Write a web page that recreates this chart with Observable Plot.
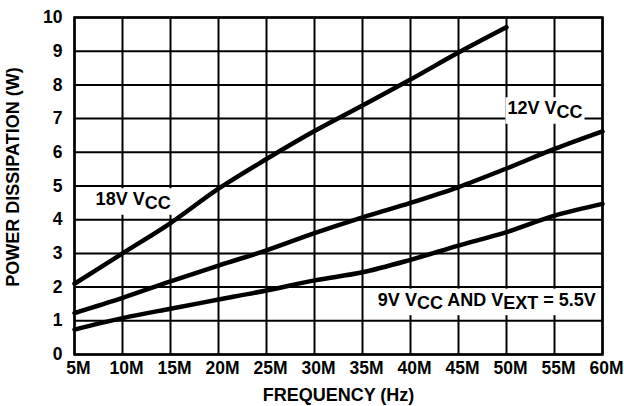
<!DOCTYPE html>
<html>
<head>
<meta charset="utf-8">
<script src="https://cdn.jsdelivr.net/npm/d3@7"></script>
<script src="https://cdn.jsdelivr.net/npm/@observablehq/plot@0.6"></script>
<style>
  html, body { margin: 0; padding: 0; background: #fff; }
  #chart { width: 624px; height: 406px; }
</style>
</head>
<body>
<div id="chart"></div>
<script>
// Frequency in MHz (tick labels shown as "5M", "10M", ...)
const xTicks = [5, 10, 15, 20, 25, 30, 35, 40, 45, 50, 55, 60];
const yTicks = [0, 1, 2, 3, 4, 5, 6, 7, 8, 9, 10];

const freq18 = [5, 10, 15, 20, 25, 30, 35, 40, 45, 50];
const power18 = [2.1, 3.0, 3.9, 4.92, 5.8, 6.63, 7.39, 8.16, 8.96, 9.71];

const freq12 = [5, 10, 15, 20, 25, 30, 35, 40, 45, 50, 55, 60];
const power12 = [1.23, 1.68, 2.17, 2.64, 3.09, 3.6, 4.07, 4.5, 4.97, 5.52, 6.1, 6.62];

const freq9 = [5, 10, 15, 20, 25, 30, 35, 40, 45, 50, 55, 60];
const power9 = [0.74, 1.08, 1.36, 1.63, 1.9, 2.2, 2.44, 2.81, 3.23, 3.63, 4.12, 4.47];

const labelText = ["18V V_{CC}", "12V V_{CC}", "9V V_{CC} AND V_{EXT} = 5.5V"];
const labelFreq = [7.2, 50.1, 36.6];
const labelPower = [4.6, 7.3, 1.62];

const xTitle = "FREQUENCY (Hz)";
const yTitle = "POWER DISSIPATION (W)";

const rows = [
  ...freq18.map((f, i) => ({f, p: power18[i], s: "18V"})),
  ...freq12.map((f, i) => ({f, p: power12[i], s: "12V"})),
  ...freq9.map((f, i) => ({f, p: power9[i], s: "9V"}))
];
const labels = labelText.map((t, i) => ({t, f: labelFreq[i], p: labelPower[i]}));

const chart = Plot.plot({
  width: 624,
  height: 406,
  marginLeft: 74,
  marginRight: 22,
  marginTop: 17,
  marginBottom: 52,
  style: {
    fontFamily: "'Liberation Sans', Arial, Helvetica, sans-serif",
    fontSize: "18px",
    fontWeight: "bold",
    color: "black",
    background: "white",
    overflow: "visible"
  },
  x: {domain: [5, 60]},
  y: {domain: [0, 10]},
  marks: [
    Plot.gridX(xTicks, {stroke: "black", strokeOpacity: 1, strokeWidth: 2}),
    Plot.gridY(yTicks, {stroke: "black", strokeOpacity: 1, strokeWidth: 2}),
    Plot.axisX(xTicks, {tickSize: 0, tickPadding: 7, dx: 4, fontSize: 17.5, tickFormat: d => d + "M", label: null}),
    Plot.axisY(yTicks, {tickSize: 0, tickPadding: 12, fontSize: 17.5, label: null}),
    Plot.text([xTitle], {frameAnchor: "bottom", textAnchor: "middle", lineAnchor: "middle", dy: 41, text: d => d}),
    Plot.text([yTitle], {frameAnchor: "left", textAnchor: "middle", lineAnchor: "middle", dx: -61, dy: -9, rotate: -90, text: d => d}),
    Plot.text(labels, {x: "f", y: "p", text: "t", textAnchor: "start", lineAnchor: "middle", fontSize: 18, className: "lbl"}),
    Plot.line(rows, {x: "f", y: "p", z: "s", stroke: "black", strokeWidth: 4.5, strokeLinejoin: "round", curve: "monotone-x"}),
    Plot.frame({stroke: "black", strokeWidth: 2.5})
  ]
});

document.getElementById("chart").appendChild(chart);

// Subscripts and white label boxes
d3.select(chart).selectAll("g.lbl text").each(function () {
  const t = d3.select(this);
  const str = t.text();
  t.text("");
  t.style("white-space", "pre");
  const re = /_\{([^}]*)\}/g;
  let last = 0, m, shifted = false;
  while ((m = re.exec(str)) !== null) {
    if (m.index > last) {
      const ts = t.append("tspan").text(str.slice(last, m.index));
      if (shifted) { ts.attr("dy", -3.5); shifted = false; }
    }
    t.append("tspan").attr("dy", 3.5).text(m[1]);
    shifted = true;
    last = re.lastIndex;
  }
  if (last < str.length) {
    const ts = t.append("tspan").text(str.slice(last));
    if (shifted) ts.attr("dy", -3.5);
  }
  const bb = this.getBBox();
  const padX = 2, padY = 2;
  const rect = d3.select(this.parentNode).insert("rect", () => this)
    .attr("x", bb.x - padX)
    .attr("y", bb.y - padY + 1)
    .attr("width", bb.width + 2 * padX)
    .attr("height", bb.height + 2 * padY - 1)
    .attr("fill", "white");
  const tr = t.attr("transform");
  if (tr) rect.attr("transform", tr);
});
</script>
</body>
</html>
